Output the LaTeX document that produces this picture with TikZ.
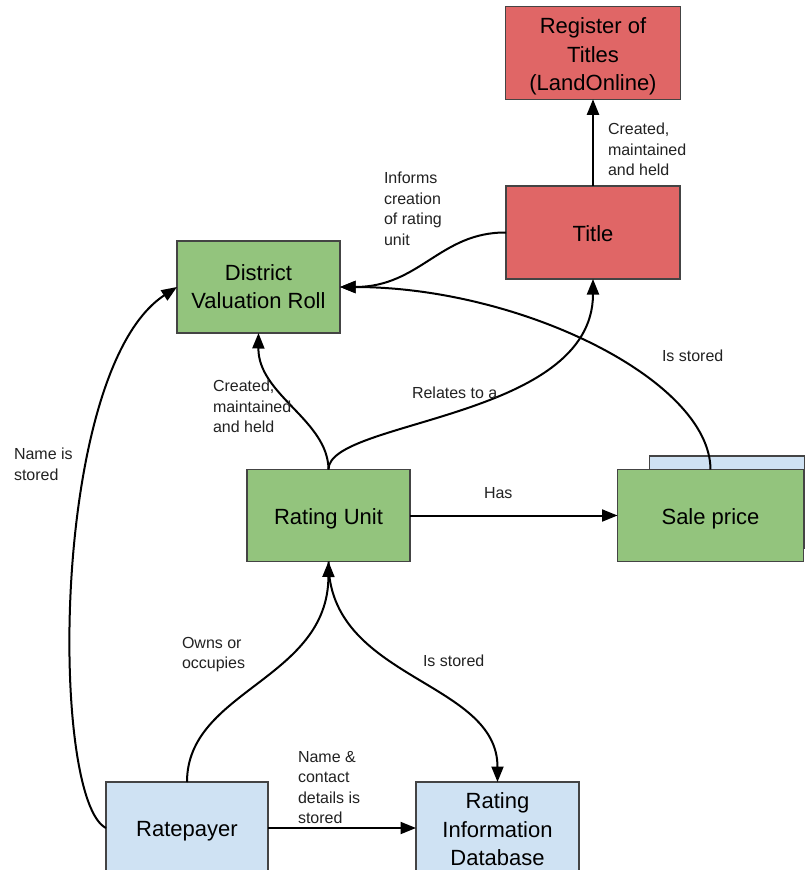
\documentclass[tikz,border=0pt]{standalone}
\usepackage{fontspec}
\setmainfont{Liberation Sans}
\usetikzlibrary{arrows.meta}
\definecolor{redfill}{HTML}{E06666}
\definecolor{greenfill}{HTML}{93C47D}
\definecolor{bluefill}{HTML}{CFE2F3}
\definecolor{boxline}{HTML}{444444}
\definecolor{labeltext}{HTML}{222222}
\newcommand{\bxstrut}{\rule[-5pt]{0pt}{27pt}}
\begin{document}
\begin{tikzpicture}[x=1pt,y=-1pt,
  box/.style={draw=boxline, line width=1.3pt, rectangle, inner sep=0pt, outer sep=0pt,
    align=center, font=\fontsize{22}{28.5}\selectfont, text=black,
    execute at begin node={\bxstrut}, execute at end node={\bxstrut}},
  boxtext/.style={align=center, font=\fontsize{22}{28.5}\selectfont, text=black,
    inner sep=0pt, yshift=-3.5pt},
  lbl/.style={anchor=north west, inner sep=0pt, outer sep=0pt, align=left,
    font=\fontsize{16}{20.5}\selectfont, text=labeltext},
  conn/.style={line width=2pt, draw=black, -{Triangle[length=15.5pt,width=12pt]}}
]
\useasboundingbox (0,0) rectangle (805,870);
\clip (0,0) rectangle (805,870);
\fill[white] (0,0) rectangle (805,870);

% boxes
\node[box, fill=redfill, minimum width=175pt, minimum height=92.5pt,
  label={[boxtext]center:Register of\\Titles\\(LandOnline)}] (register) at (593,53) {};
\node[box, fill=redfill, minimum width=174pt, minimum height=93pt] (title) at (593,232.5) {Title};
\node[box, fill=greenfill, minimum width=163pt, minimum height=92pt,
  label={[boxtext, yshift=4pt]center:District\\Valuation Roll}] (dvr) at (258.5,287) {};
\node[box, fill=greenfill, minimum width=163pt, minimum height=92pt] (ru) at (328.5,515.5) {Rating Unit};
\node[box, fill=bluefill, minimum width=155pt, minimum height=92pt] (salebg) at (727,502) {};
\node[box, fill=greenfill, minimum width=186pt, minimum height=92pt] (sale) at (710.5,515.5) {Sale price};
\node[box, fill=bluefill, minimum width=162pt, minimum height=92pt] (ratepayer) at (187,828) {Ratepayer};
\node[box, fill=bluefill, minimum width=163pt, minimum height=92pt,
  label={[boxtext, yshift=2pt]center:Rating\\Information\\Database}] (rid) at (497.5,828) {};

% connectors
\draw[conn] (title.north) -- (register.south);
\draw[conn] (title.west) .. controls (440,232) and (420,287) .. (dvr.east);
\draw[conn] (sale.north) .. controls (710,380) and (520,287) .. (dvr.east);
\draw[conn] (ru.north) .. controls (328,420) and (258,395) .. (dvr.south);
\draw[conn] (ru.north) .. controls (328,420) and (593,420) .. (title.south);
\draw[conn] (ru.east) -- (sale.west);
\draw[conn] (ratepayer.north) .. controls (187,690) and (328,680) .. (ru.south);
\draw[conn] (ru.south) .. controls (328,680) and (497.5,680) .. (rid.north);
\draw[conn] (ratepayer.west) .. controls (50,800) and (50,370) .. (dvr.west);
\draw[conn] (ratepayer.east) -- (rid.west);

% labels
\node[lbl] (l1) at (608,123) {Created,\\maintained\\and held};
\node[lbl] (l2) at (384,172) {Informs\\creation\\of rating\\unit};
\node[lbl] (l3) at (662,350) {Is stored};
\node[lbl] (l4) at (213,380) {Created,\\maintained\\and held};
\node[lbl] (l5) at (412,387) {Relates to a};
\node[lbl] (l6) at (484,487) {Has};
\node[lbl] (l7) at (182,637) {Owns or\\occupies};
\node[lbl] (l8) at (423,655) {Is stored};
\node[lbl] (l9) at (298,751) {Name \&\\contact\\details is\\stored};
\node[lbl] (l10) at (14,448) {Name is\\stored};
\end{tikzpicture}
\end{document}
